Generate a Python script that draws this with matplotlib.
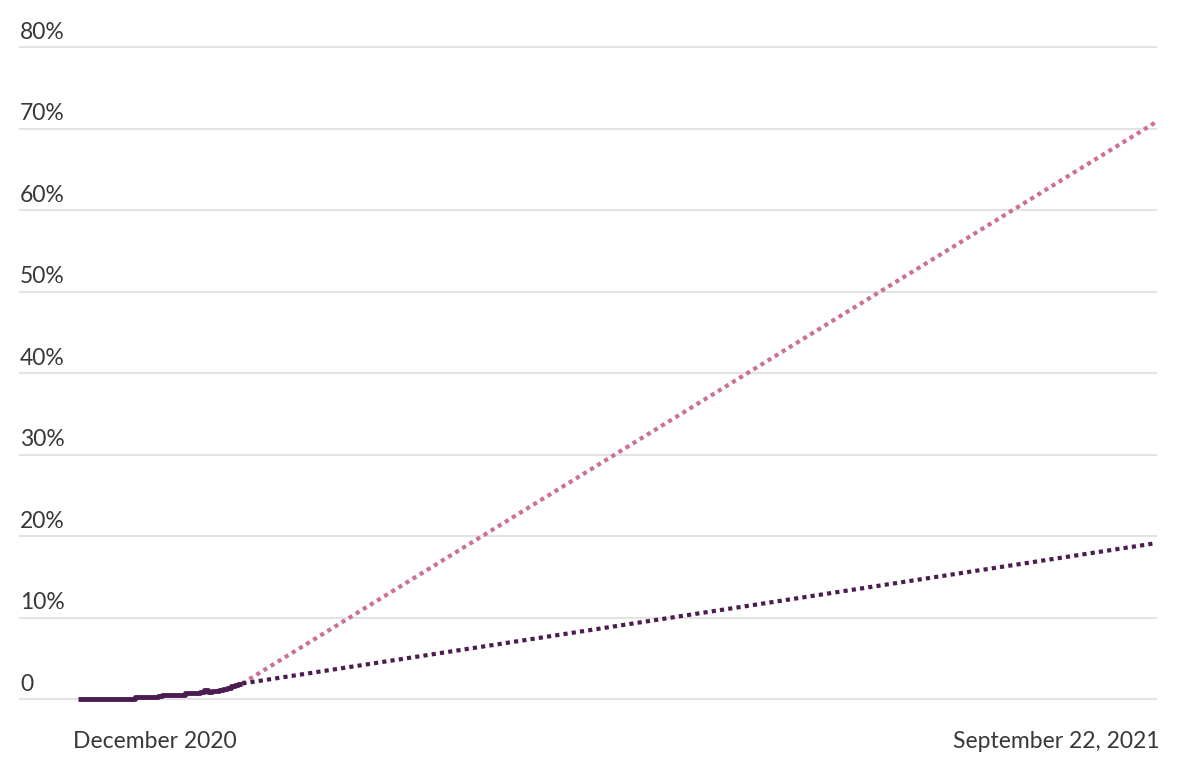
import matplotlib.pyplot as plt
from matplotlib import transforms

# days since start of December 2020 window, share vaccinated (%)
days = list(range(44))
actual = [0, 0, 0, 0, 0, 0, 0, 0, 0, 0, 0, 0, 0, 0, 0,
          0.2, 0.2, 0.2, 0.2, 0.2, 0.2, 0.35,
          0.55, 0.55, 0.55, 0.55, 0.55, 0.55,
          0.75, 0.75, 0.75, 0.75, 0.85, 1.05, 0.9, 1.0, 1.0, 1.05,
          1.25, 1.35, 1.55, 1.75, 1.8, 1.9]

end_day = 282  # September 22, 2021
proj_fast = 70.7
proj_slow = 19.1

yticks = [0, 10, 20, 30, 40, 50, 60, 70, 80]
ylabels = ["0", "10%", "20%", "30%", "40%", "50%", "60%", "70%", "80%"]
xlabels = ["December 2020", "September 22, 2021"]

purple = "#4b1c50"
pink = "#cc7098"

plt.rcParams["font.family"] = ["Lato", "DejaVu Sans"]

fig = plt.figure(figsize=(11.96, 7.68), dpi=100)
ax = fig.add_axes([20 / 1196, 69 / 768, 1136 / 1196, 652 / 768])
ax.set_xlim(-15.2, 282.3)
ax.set_ylim(0, 80)
ax.axis("off")

for y in yticks:
    ax.axhline(y, color="#e3e3e3", lw=1.5, zorder=0, clip_on=False)

last_d, last_v = days[-1], actual[-1]
ax.plot([last_d, end_day], [last_v, proj_fast], color=pink, lw=3,
        linestyle=(0, (1, 1)), clip_on=False, zorder=2)
ax.plot([last_d, end_day], [last_v, proj_slow], color=purple, lw=3,
        linestyle=(0, (1, 1)), clip_on=False, zorder=2)
ax.plot(days, actual, color=purple, lw=3.5, solid_capstyle="butt",
        drawstyle="steps-post", clip_on=False, zorder=3)

ylab_tr = transforms.blended_transform_factory(ax.transAxes, ax.transData)
for y, lab in zip(yticks, ylabels):
    ax.annotate(lab, xy=(0, y), xycoords=ylab_tr, xytext=(0, 3),
                textcoords="offset points", ha="left", va="bottom",
                fontsize=16.5, color="#383838")

xlab_tr = transforms.blended_transform_factory(ax.transData, ax.transAxes)
ax.text(-1.3, -42 / 652, xlabels[0], transform=xlab_tr, ha="left",
        va="center", fontsize=16.5, color="#383838")
ax.text(end_day + 1.3, -42 / 652, xlabels[1], transform=xlab_tr, ha="right",
        va="center", fontsize=16.5, color="#383838")

fig.savefig("out.png", dpi=100)
